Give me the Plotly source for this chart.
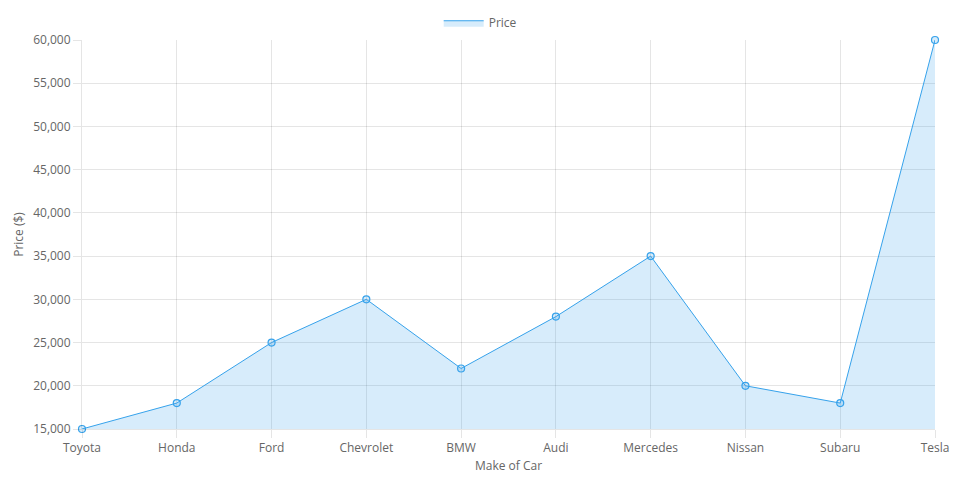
import plotly.graph_objects as go

makes = ["Toyota", "Honda", "Ford", "Chevrolet", "BMW", "Audi", "Mercedes", "Nissan", "Subaru", "Tesla"]
prices = [15000, 18000, 25000, 30000, 22000, 28000, 35000, 20000, 18000, 60000]

line_color = "rgb(54,162,235)"
fill_color = "rgba(54,162,235,0.2)"
grid_color = "rgba(0,0,0,0.1)"

fig = go.Figure()
# area + line (this one carries the legend entry)
fig.add_trace(go.Scatter(
    x=makes, y=prices, name="Price",
    mode="lines", fill="tozeroy", fillcolor=fill_color,
    line=dict(color=line_color, width=1),
))
# point markers
fig.add_trace(go.Scatter(
    x=makes, y=prices, name="Price", showlegend=False,
    mode="markers", cliponaxis=False,
    marker=dict(symbol="circle", size=7, color=fill_color,
                line=dict(color=line_color, width=1.2)),
))

# page body has an 8px margin, so the figure is a bit smaller than the window
fig.update_layout(
    width=952,
    height=492,
    paper_bgcolor="white",
    plot_bgcolor="white",
    font=dict(family="Open Sans", size=12, color="#666"),
    margin=dict(l=74, r=25, t=32, b=71, autoexpand=False),
    showlegend=True,
    legend=dict(orientation="h", xref="container", x=0.496, xanchor="center",
                yref="container", y=0.97, yanchor="middle",
                itemwidth=40, font=dict(size=12, color="#666")),
    xaxis=dict(
        title=dict(text="Make of Car", font=dict(size=12), standoff=6),
        showgrid=True, gridcolor=grid_color,
        showline=True, linecolor=grid_color,
        ticks="outside", ticklen=8, tickcolor=grid_color,
        range=[0, len(makes) - 1],
        zeroline=False, automargin=False,
    ),
    yaxis=dict(
        title=dict(text="Price ($)", font=dict(size=12), standoff=6),
        range=[15000, 60000],
        dtick=5000,
        tickformat=",",
        showgrid=True, gridcolor=grid_color,
        showline=True, linecolor=grid_color,
        ticks="outside", ticklen=8, tickcolor=grid_color,
        zeroline=False, automargin=False,
    ),
)

fig.write_html("out.html")
